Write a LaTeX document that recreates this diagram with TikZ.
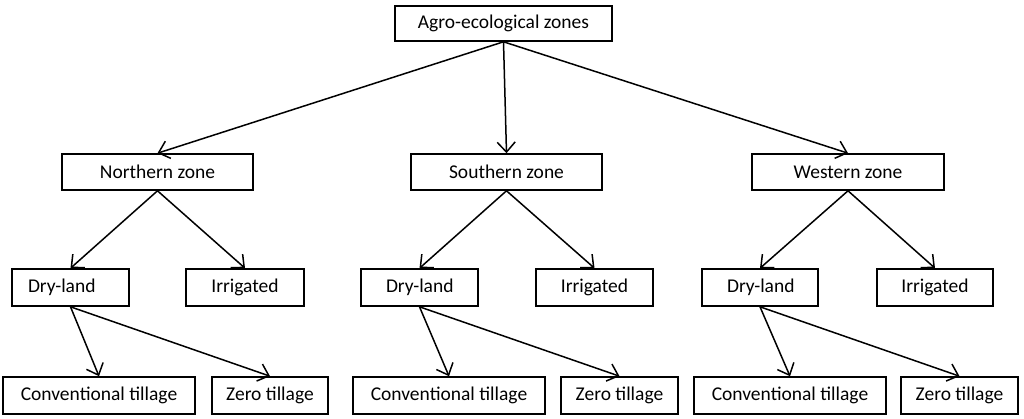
\documentclass[tikz,border=0pt]{standalone}
\usepackage{fontspec}
\setmainfont{Carlito}
\usetikzlibrary{arrows.meta}
\begin{document}
\begin{tikzpicture}[x=1pt,y=-1pt,
  box/.style={draw, line width=1.6pt, inner sep=0pt, minimum height=36pt, font=\fontsize{19.5}{22}\selectfont, text=black},
  arr/.style={line width=1.5pt, -{Straight Barb[length=10pt,width=18pt,line width=1.5pt]}}]
\useasboundingbox (0,0) rectangle (1024,418);
\node[box, minimum width=217pt, minimum height=35pt] (agro) at (503.5,23.5) {Agro-ecological zones};
\node[box, minimum width=191pt] (north) at (157.5,172) {Northern zone};
\node[box, minimum width=191pt] (south) at (506.5,172) {Southern zone};
\node[box, minimum width=192pt] (west) at (848,172) {Western zone};
% Northern
\node[box, inner xsep=16pt, minimum height=37pt] (ndry) at (70.5,287.5) {\makebox[85pt][l]{Dry-land}};
\node[box, minimum width=118pt, minimum height=37pt] (nirr) at (245,287.5) {Irrigated};
\node[box, minimum width=192pt, minimum height=37pt] (nconv) at (99,395.5) {Conventional tillage};
\node[box, minimum width=116pt, minimum height=37pt] (nzero) at (270,395.5) {Zero tillage};
% Southern
\node[box, inner xsep=25pt, minimum height=37pt] (sdry) at (419.5,287.5) {\makebox[67pt][l]{Dry-land}};
\node[box, minimum width=117pt, minimum height=37pt] (sirr) at (594.5,287.5) {Irrigated};
\node[box, minimum width=192pt, minimum height=37pt] (sconv) at (449,395.5) {Conventional tillage};
\node[box, minimum width=117pt, minimum height=37pt] (szero) at (619.5,395.5) {Zero tillage};
% Western
\node[box, inner xsep=25pt, minimum height=37pt] (wdry) at (760,287.5) {\makebox[66pt][l]{Dry-land}};
\node[box, minimum width=116pt, minimum height=37pt] (wirr) at (935,287.5) {Irrigated};
\node[box, minimum width=192pt, minimum height=37pt] (wconv) at (790,395.5) {Conventional tillage};
\node[box, minimum width=117pt, minimum height=37pt] (wzero) at (959.5,395.5) {Zero tillage};
% arrows
\draw[arr] (agro.south) -- (north.north);
\draw[arr] (agro.south) -- (south.north);
\draw[arr] (agro.south) -- (west.north);
\foreach \z/\d/\i/\c/\o in {north/ndry/nirr/nconv/nzero, south/sdry/sirr/sconv/szero, west/wdry/wirr/wconv/wzero}{
  \draw[arr] (\z.south) -- (\d.north);
  \draw[arr] (\z.south) -- (\i.north);
  \draw[arr] (\d.south) -- (\c.north);
  \draw[arr] (\d.south) -- (\o.north);
}
\end{tikzpicture}
\end{document}
